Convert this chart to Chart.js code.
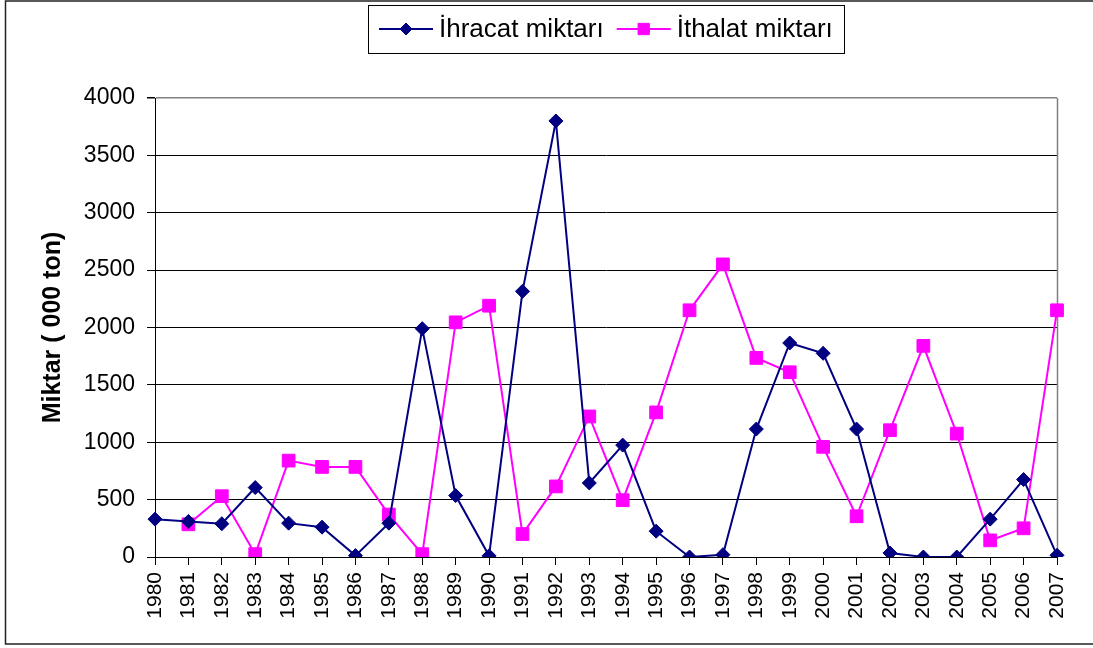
<!DOCTYPE html>
<html lang="tr">
<head>
<meta charset="utf-8">
<title>İhracat ve İthalat Miktarı</title>
<script src="https://cdn.jsdelivr.net/npm/chart.js@4.4.1/dist/chart.umd.min.js"></script>
<style>
  html, body { margin: 0; padding: 0; background: #fff; }
  #wrap { width: 1093px; height: 648px; }
</style>
</head>
<body>
<div id="wrap"><canvas id="grafik" width="1093" height="648"></canvas></div>
<script>
// Veriler (bin ton)
const yillar = ['1980', '1981', '1982', '1983', '1984', '1985', '1986', '1987', '1988', '1989',
  '1990', '1991', '1992', '1993', '1994', '1995', '1996', '1997', '1998', '1999',
  '2000', '2001', '2002', '2003', '2004', '2005', '2006', '2007'];

const ihracat = [330, 310, 290, 605, 295, 260, 12, 295, 1990, 535,
  10, 2315, 3800, 645, 975, 225, 0, 20, 1115, 1865,
  1775, 1115, 35, 0, 0, 330, 675, 15];

const ithalat = [null, 285, 530, 25, 840, 785, 785, 370, 25, 2045,
  2190, 200, 615, 1225, 495, 1260, 2150, 2550, 1735, 1610,
  960, 355, 1105, 1840, 1075, 145, 250, 2150];

const seriAdlari = ['İhracat miktarı', 'İthalat miktarı'];
const seriRenkleri = ['#000080', '#FF00FF'];
const seriIsaretleri = ['rectRot', 'rect'];
const isaretBoyu = [7, 9];

const yMin = 0;
const yMax = 4000;
const yAdim = 500;
const yBaslik = 'Miktar ( 000 ton)';

const FONT = '"Liberation Sans", Arial, sans-serif';

// =============================================
// Arka plan ve dış çerçeve
// =============================================
const cerceve = {
  id: 'cerceve',
  beforeDraw(chart) {
    const ctx = chart.ctx;
    ctx.save();
    ctx.fillStyle = '#fff';
    ctx.fillRect(0, 0, chart.width, chart.height);
    ctx.strokeStyle = '#222';
    ctx.lineWidth = 1.5;
    ctx.strokeRect(5.5, 1, chart.width + 20, 643);
    ctx.restore();
  },
  beforeDatasetsDraw(chart) {
    // çizim alanının sağ kenarı (gri)
    const { ctx, chartArea: a } = chart;
    ctx.save();
    ctx.strokeStyle = '#808080';
    ctx.lineWidth = 1.5;
    ctx.beginPath();
    ctx.moveTo(Math.round(a.right) + 0.5, a.top);
    ctx.lineTo(Math.round(a.right) + 0.5, a.bottom);
    ctx.stroke();
    ctx.restore();
  }
};

// =============================================
// Çerçeveli gösterge (çizgi + işaret)
// =============================================
const gosterge = {
  id: 'gosterge',
  afterDraw(chart) {
    const { ctx, chartArea: a } = chart;
    ctx.save();
    ctx.font = '26px ' + FONT;
    const w = seriAdlari.map(s => ctx.measureText(s).width);
    const pad = 11, cizgi = 54, bosluk = 6, ara = 13;
    const toplam = pad + cizgi + bosluk + w[0] + ara + cizgi + bosluk + w[1] + pad;
    const ust = 5, yuk = 48, cy = ust + yuk / 2;
    let x = Math.round((a.left + a.right) / 2 - toplam / 2);

    ctx.strokeStyle = '#000';
    ctx.lineWidth = 1;
    ctx.strokeRect(x + 0.5, ust + 0.5, Math.round(toplam), yuk);

    x += pad;
    seriAdlari.forEach((ad, i) => {
      ctx.strokeStyle = seriRenkleri[i];
      ctx.fillStyle = seriRenkleri[i];
      ctx.lineWidth = 2;
      ctx.beginPath();
      ctx.moveTo(x, cy);
      ctx.lineTo(x + cizgi, cy);
      ctx.stroke();
      ctx.lineWidth = 1;
      Chart.helpers.drawPoint(ctx, {
        pointStyle: seriIsaretleri[i], radius: isaretBoyu[i] - 1, rotation: 0, borderWidth: 1
      }, x + cizgi / 2, cy);
      x += cizgi + bosluk;
      ctx.fillStyle = '#000';
      ctx.textAlign = 'left';
      ctx.textBaseline = 'middle';
      ctx.fillText(ad, x, cy + 1);
      x += w[i] + ara;
    });
    ctx.restore();
  }
};

const datasets = [ihracat, ithalat].map((veri, i) => ({
  label: seriAdlari[i],
  data: veri,
  borderColor: seriRenkleri[i],
  backgroundColor: seriRenkleri[i],
  borderWidth: 2,
  tension: 0,
  fill: false,
  pointStyle: seriIsaretleri[i],
  pointRadius: isaretBoyu[i],
  pointBorderWidth: 1,
  pointBorderColor: seriRenkleri[i],
  pointBackgroundColor: seriRenkleri[i],
}));

new Chart(document.getElementById('grafik'), {
  type: 'line',
  data: { labels: yillar, datasets },
  plugins: [cerceve, gosterge],
  options: {
    responsive: false,
    animation: false,
    devicePixelRatio: 1,
    layout: { padding: { top: 98, right: 36, bottom: 0, left: 0 } },
    plugins: {
      legend: { display: false },
      tooltip: { enabled: false },
    },
    scales: {
      x: {
        offset: false,
        grid: { drawOnChartArea: false, drawTicks: true, tickLength: 8, tickColor: '#000', lineWidth: 1 },
        border: { color: '#000', width: 1 },
        ticks: {
          color: '#000',
          autoSkip: false,
          maxRotation: 90,
          minRotation: 90,
          padding: 7,
          font: { family: FONT, size: 21 },
        },
        afterFit: s => { s.height = 91; },
      },
      y: {
        min: yMin,
        max: yMax,
        grid: {
          color: c => (c.tick && c.tick.value === yMax ? '#808080' : '#000'),
          lineWidth: c => (c.tick && c.tick.value === yMax ? 1.5 : 1),
          tickLength: 8,
          tickColor: '#000',
        },
        border: { color: '#000', width: 1 },
        ticks: {
          stepSize: yAdim,
          color: '#000',
          padding: 12,
          font: { family: FONT, size: 23 },
          callback: v => String(v),
        },
        title: {
          display: true,
          text: yBaslik,
          color: '#000',
          padding: { top: 38, bottom: 0 },
          font: { family: FONT, size: 25, weight: 'bold' },
        },
        afterFit: s => { s.width = 155; },
      },
    },
  },
});
</script>
</body>
</html>
